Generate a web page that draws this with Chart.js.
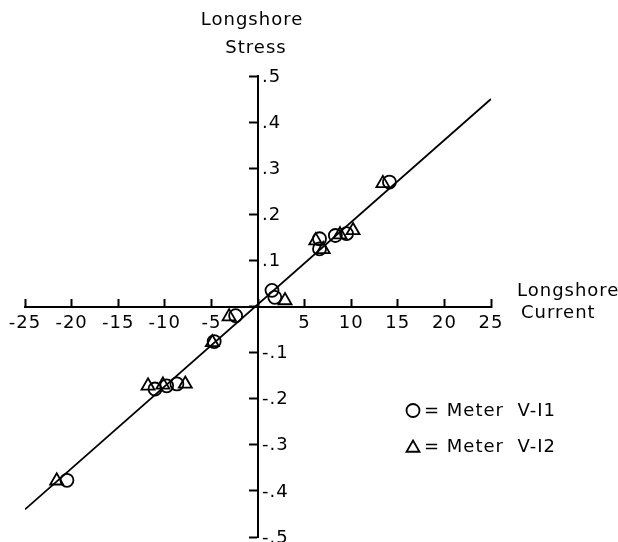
<!DOCTYPE html>
<html>
<head>
<meta charset="utf-8">
<script src="https://cdn.jsdelivr.net/npm/chart.js@4/dist/chart.umd.min.js"></script>
<style>
html,body{margin:0;padding:0;background:#fff;}
#wrap{width:618px;height:542px;position:relative;}
</style>
</head>
<body>
<div id="wrap"><canvas id="c" width="618" height="542"></canvas></div>
<script>
// ---- data ----
const xTickValues = [-25, -20, -15, -10, -5, 0, 5, 10, 15, 20, 25];
const xTickLabels = ['-25', '-20', '-15', '-10', '-5', '', '5', '10', '15', '20', '25'];
const yTickValues = [-0.5, -0.4, -0.3, -0.2, -0.1, 0, 0.1, 0.2, 0.3, 0.4, 0.5];
const yTickLabels = ['-.5', '-.4', '-.3', '-.2', '-.1', '', '.1', '.2', '.3', '.4', '.5'];

// Meter V-I1 (circles)
const meter1X = [14.1, 6.6, 6.6, 8.3, 9.5, 1.5, 1.8, -2.4, -4.7, -11.05, -9.8, -8.7, -20.5];
const meter1Y = [0.270, 0.147, 0.125, 0.154, 0.158, 0.035, 0.020, -0.020, -0.076, -0.179, -0.172, -0.168, -0.377];
// Meter V-I2 (triangles)
const meter2X = [13.4, 6.2, 7.0, 8.8, 10.2, 2.9, -3.1, -4.9, -11.8, -10.2, -7.8, -21.6];
const meter2Y = [0.267, 0.143, 0.124, 0.156, 0.165, 0.013, -0.022, -0.078, -0.172, -0.170, -0.168, -0.378];
// fitted line end points
const fitX = [-25, 25];
const fitY = [-0.44, 0.45];

const legendLabels = ['= Meter  V-I1', '= Meter  V-I2'];
const yTitle = ['Longshore', 'Stress'];
const xTitle = ['Longshore', 'Current'];

const zip = (xs, ys) => xs.map((x, i) => ({x: x, y: ys[i]}));

const FONT = '"DejaVu Sans", "Liberation Sans", Arial, sans-serif';
Chart.defaults.font.family = FONT;
Chart.defaults.color = '#000';

const spacing = {
  id: 'spacing',
  beforeDraw(chart) {
    if ('letterSpacing' in chart.ctx) chart.ctx.letterSpacing = '1px';
  }
};

const annot = {
  id: 'annot',
  afterDraw(chart) {
    const ctx = chart.ctx;
    const xs = chart.scales.x, ys = chart.scales.y;
    const ax = xs.getPixelForValue(0);
    const ay = ys.getPixelForValue(0);
    const ca = chart.chartArea;
    ctx.save();
    if ('letterSpacing' in ctx) ctx.letterSpacing = '1px';
    ctx.fillStyle = '#000';
    // y tick labels, to the right of the axis
    ctx.font = '18px ' + FONT;
    ctx.textAlign = 'left';
    ctx.textBaseline = 'middle';
    yTickValues.forEach((v, i) => {
      if (!yTickLabels[i]) return;
      ctx.fillText(yTickLabels[i], ax + 4, ys.getPixelForValue(v) + 1);
    });
    // axis titles
    ctx.font = '18px ' + FONT;
    ctx.textAlign = 'center';
    ctx.fillText(yTitle[0], ax - 6, ca.top - 56);
    ctx.fillText(yTitle[1], ax - 2, ca.top - 28);
    ctx.textAlign = 'left';
    ctx.fillText(xTitle[0], ca.right + 26, ay - 15.5);
    ctx.fillText(xTitle[1], ca.right + 30, ay + 6.5);
    // legend
    const lx = ca.right - 78;
    const ly1 = ay + 104, ly2 = ay + 140;
    ctx.strokeStyle = '#000';
    ctx.lineWidth = 1.8;
    ctx.beginPath();
    ctx.arc(lx, ly1, 6.5, 0, Math.PI * 2);
    ctx.stroke();
    ctx.beginPath();
    const r = 7.5;
    for (let k = 0; k < 3; k++) {
      const a = k * 2 * Math.PI / 3;
      const px = lx + Math.sin(a) * r, py = ly2 - Math.cos(a) * r + 1.5;
      if (k === 0) ctx.moveTo(px, py); else ctx.lineTo(px, py);
    }
    ctx.closePath();
    ctx.stroke();
    ctx.font = '18px ' + FONT;
    ctx.fillText(legendLabels[0], lx + 11, ly1 + 1);
    ctx.fillText(legendLabels[1], lx + 11, ly2 + 1);
    ctx.restore();
  }
};

const noPad = (s) => { s.paddingLeft = 0; s.paddingRight = 0; s.paddingTop = 0; s.paddingBottom = 0; };

new Chart(document.getElementById('c'), {
  type: 'scatter',
  data: {
    datasets: [
      {
        type: 'line', label: 'fit', data: zip(fitX, fitY),
        borderColor: '#000', borderWidth: 1.8, pointRadius: 0, fill: false, tension: 0
      },
      {
        label: 'Meter V-I1', data: zip(meter1X, meter1Y),
        pointStyle: 'circle', pointRadius: 6.5, pointBorderWidth: 1.8,
        borderColor: '#000', backgroundColor: 'rgba(0,0,0,0)'
      },
      {
        label: 'Meter V-I2', data: zip(meter2X, meter2Y),
        pointStyle: 'triangle', pointRadius: 7.5, pointBorderWidth: 1.8,
        borderColor: '#000', backgroundColor: 'rgba(0,0,0,0)'
      }
    ]
  },
  options: {
    responsive: false,
    animation: false,
    events: [],
    layout: {autoPadding: false, padding: {left: 25, right: 127, top: 76, bottom: 5}},
    plugins: {legend: {display: false}, tooltip: {enabled: false}, title: {display: false}},
    scales: {
      x: {
        type: 'linear', min: -25, max: 25, position: {y: 0},
        afterBuildTicks: (s) => { s.ticks = xTickValues.map(v => ({value: v})); },
        afterFit: noPad,
        ticks: {
          callback: (v) => { const i = xTickValues.indexOf(v); return i >= 0 ? xTickLabels[i] : ''; },
          font: {size: 18, family: FONT}, color: '#000', padding: 15,
          maxRotation: 0, minRotation: 0, autoSkip: false
        },
        grid: {display: true, drawOnChartArea: false, drawTicks: true, tickLength: -9, tickWidth: 2, tickColor: '#000'},
        border: {display: true, color: '#000', width: 2}
      },
      y: {
        type: 'linear', min: -0.5, max: 0.5, position: {x: 0},
        afterBuildTicks: (s) => { s.ticks = yTickValues.map(v => ({value: v})); },
        afterFit: noPad,
        ticks: {display: false},
        grid: {display: true, drawOnChartArea: false, drawTicks: true, tickLength: 8, tickWidth: 2, tickColor: '#000'},
        border: {display: true, color: '#000', width: 2}
      }
    }
  },
  plugins: [spacing, annot]
});
</script>
</body>
</html>
